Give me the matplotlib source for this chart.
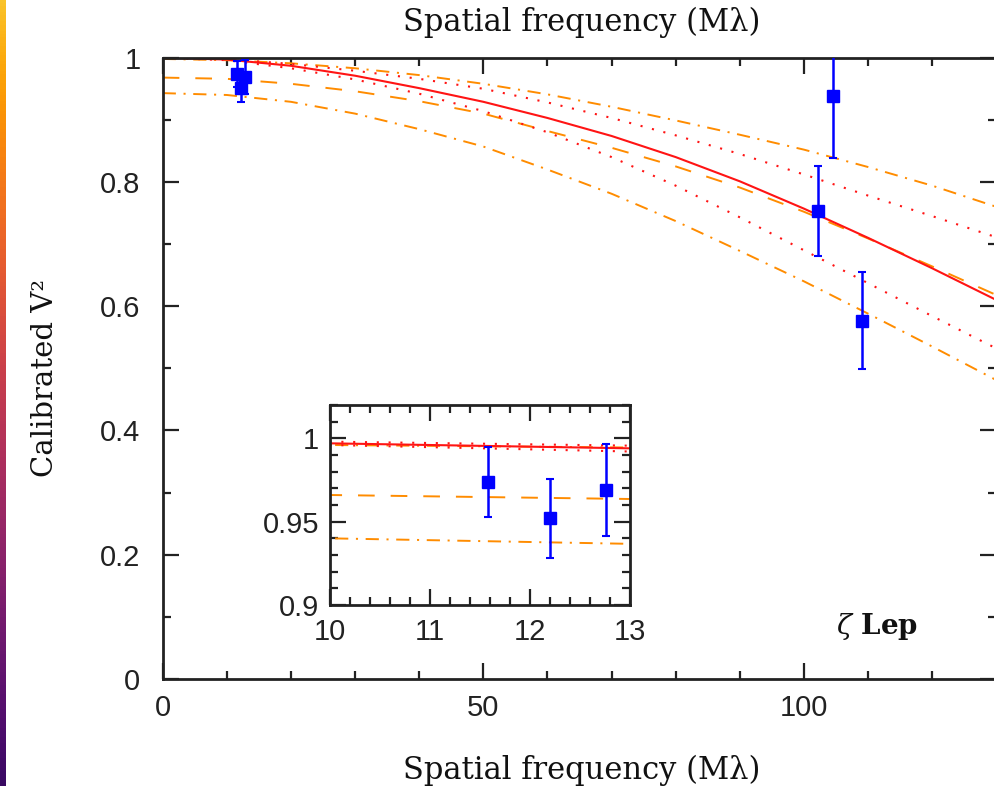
import numpy as np
import matplotlib
matplotlib.use("Agg")
import matplotlib.pyplot as plt
from matplotlib.ticker import FixedLocator, FixedFormatter, MultipleLocator

plt.rcParams['mathtext.fontset'] = 'dejavuserif'
plt.rcParams['lines.scale_dashes'] = False

# ---- data ----
u = [0, 10, 20, 30, 40, 50, 60, 70, 80, 90, 100, 110, 120, 130]
v2_solid      = [1.000, 0.997, 0.987, 0.971, 0.951, 0.929, 0.903, 0.874, 0.840, 0.801, 0.757, 0.710, 0.661, 0.610]
v2_dotted_hi  = [1.000, 0.998, 0.990, 0.979, 0.966, 0.950, 0.928, 0.903, 0.875, 0.845, 0.812, 0.778, 0.745, 0.711]
v2_dotted_lo  = [1.000, 0.996, 0.983, 0.965, 0.942, 0.914, 0.880, 0.840, 0.794, 0.743, 0.690, 0.637, 0.584, 0.532]
v2_dashed     = [0.968, 0.966, 0.958, 0.946, 0.930, 0.910, 0.882, 0.855, 0.825, 0.791, 0.752, 0.709, 0.664, 0.618]
v2_dashdot_hi = [0.998, 0.996, 0.991, 0.983, 0.972, 0.958, 0.941, 0.921, 0.899, 0.876, 0.852, 0.824, 0.794, 0.760]
v2_dashdot_lo = [0.943, 0.940, 0.929, 0.910, 0.885, 0.857, 0.820, 0.781, 0.737, 0.689, 0.640, 0.588, 0.535, 0.481]

obs_u   = [11.58, 12.20, 12.76, 102.2, 104.5, 109.0]
obs_v2  = [0.974, 0.952, 0.969, 0.753, 0.939, 0.577]
obs_err = [0.021, 0.0235, 0.0276, 0.072, 0.100, 0.078]

main_xticks = [0, 50, 100]
main_xticklabels = ["0", "50", "100"]
main_yticks = [0, 0.2, 0.4, 0.6, 0.8, 1.0]
main_yticklabels = ["0", "0.2", "0.4", "0.6", "0.8", "1"]
ins_xticks = [10, 11, 12, 13]
ins_xticklabels = ["10", "11", "12", "13"]
ins_yticks = [0.9, 0.95, 1.0]
ins_yticklabels = ["0.9", "0.95", "1"]

xlabel = "Spatial frequency (M\u03bb)"
ylabel = "Calibrated V\u00b2"
star = r"$\zeta$ Lep"

# ---- styles ----
RED = "#ff1414"
ORANGE = "#ff8c00"
BLUE = "#0000ff"
W, H = 995, 786

curves = [
    (v2_dashdot_hi, dict(color=ORANGE, lw=1.4, dashes=(9.5, 5.5, 1.5, 5.5))),
    (v2_dashdot_lo, dict(color=ORANGE, lw=1.4, dashes=(9.5, 5.5, 1.5, 5.5))),
    (v2_dashed,     dict(color=ORANGE, lw=1.4, dashes=(12, 11.5))),
    (v2_dotted_hi,  dict(color=RED, lw=1.5, dashes=(1.5, 7))),
    (v2_dotted_lo,  dict(color=RED, lw=1.5, dashes=(1.5, 7))),
    (v2_solid,      dict(color=RED, lw=1.5)),
]

fig = plt.figure(figsize=(W / 100, H / 100), dpi=100)

# colour strip on the left edge
sax = fig.add_axes([0, 0, 6 / W, 1])
grad = np.linspace(0.86, 0.18, 256).reshape(-1, 1)
sax.imshow(grad, aspect='auto', cmap='inferno', vmin=0, vmax=1)
sax.set_axis_off()

def style_axes(ax, major_len=11.5, minor_len=5.8):
    for s in ax.spines.values():
        s.set_linewidth(2.0)
        s.set_color("#222222")
    ax.tick_params(which='both', direction='in', top=True, right=True,
                   width=1.6, color="#222222")
    ax.tick_params(which='major', length=major_len)
    ax.tick_params(which='minor', length=minor_len)

tick_font = dict(family='Liberation Sans', size=21)

# main axes
ax = fig.add_axes([162.7 / W, (H - 679) / H, 833.7 / W, 621.3 / H])
for y, kw in curves:
    ax.plot(u, y, **kw)
ax.errorbar(obs_u, obs_v2, yerr=obs_err, fmt='s', color=BLUE, ms=8,
            elinewidth=1.8, capsize=3, capthick=1.5, zorder=5)
ax.set_xlim(0, 130)
ax.set_ylim(0, 1)
ax.xaxis.set_major_locator(FixedLocator(main_xticks))
ax.xaxis.set_major_formatter(FixedFormatter(main_xticklabels))
ax.xaxis.set_minor_locator(MultipleLocator(10))
ax.yaxis.set_major_locator(FixedLocator(main_yticks))
ax.yaxis.set_major_formatter(FixedFormatter(main_yticklabels))
ax.yaxis.set_minor_locator(MultipleLocator(0.1))
style_axes(ax)
ax.tick_params(axis='x', which='major', pad=11)
ax.tick_params(axis='y', which='major', pad=16)
for lab in ax.get_xticklabels() + ax.get_yticklabels():
    lab.set_fontfamily(tick_font['family'])
    lab.set_fontsize(tick_font['size'])
    lab.set_color("#222222")

label_font = dict(family='DejaVu Serif', color="#111111")
fig.text(582 / W, 1 - 22 / H, xlabel, ha='center', va='center', size=22, **label_font)
fig.text(582 / W, 1 - 770 / H, xlabel, ha='center', va='center', size=22, **label_font)
fig.text(45 / W, 1 - 378 / H, ylabel, ha='center', va='center', rotation=90, size=21, **label_font)
fig.text(877 / W, 1 - 626 / H, star, ha='center', va='center',
         family='DejaVu Serif', size=20, weight='bold', color="#111111")

# inset
ins = fig.add_axes([330 / W, (H - 605) / H, 300 / W, 200 / H])
ins.set_facecolor('white')
for y, kw in curves:
    ins.plot(u, y, **kw)
ins.errorbar(obs_u, obs_v2, yerr=obs_err, fmt='s', color=BLUE, ms=8,
             elinewidth=1.8, capsize=3, capthick=1.5, zorder=5)
ins.set_xlim(10, 13)
ins.set_ylim(0.9, 1.02)
ins.xaxis.set_major_locator(FixedLocator(ins_xticks))
ins.xaxis.set_major_formatter(FixedFormatter(ins_xticklabels))
ins.xaxis.set_minor_locator(MultipleLocator(0.2))
ins.yaxis.set_major_locator(FixedLocator(ins_yticks))
ins.yaxis.set_major_formatter(FixedFormatter(ins_yticklabels))
ins.yaxis.set_minor_locator(MultipleLocator(0.01))
style_axes(ins)
ins.tick_params(axis='x', which='major', pad=9)
ins.tick_params(axis='y', which='major', pad=8)
for lab in ins.get_xticklabels() + ins.get_yticklabels():
    lab.set_fontfamily(tick_font['family'])
    lab.set_fontsize(tick_font['size'])
    lab.set_color("#222222")

fig.savefig("out.png", dpi=100)
